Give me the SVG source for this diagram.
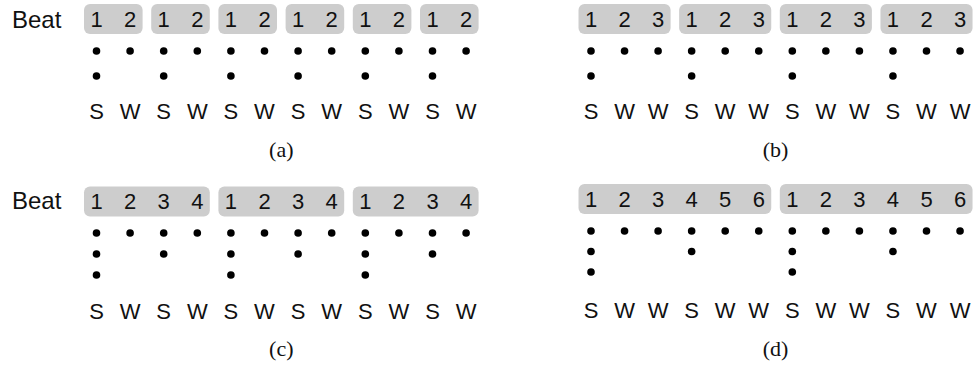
<svg xmlns="http://www.w3.org/2000/svg" width="976" height="365" viewBox="0 0 976 365">
<style>
.bx{fill:#cdcdcd}
.num{font-family:"Liberation Sans",Arial,sans-serif;font-size:22px;fill:#111;text-anchor:middle}
.lbl{font-family:"Liberation Sans",Arial,sans-serif;font-size:24px;fill:#111}
.sw{font-family:"Liberation Sans",Arial,sans-serif;font-size:22px;fill:#111;text-anchor:middle}
.cap{font-family:"Liberation Serif","Times New Roman",serif;font-size:22px;fill:#111;text-anchor:middle}
.d{fill:#000}
</style>
<rect width="976" height="365" fill="#fff"/>

<!-- Panel (a) -->
<g id="panel-a">
<g id="a-boxes">
<rect class="bx" x="84" y="4" width="58.6" height="30" rx="6"/>
<rect class="bx" x="151.2" y="4" width="58.6" height="30" rx="6"/>
<rect class="bx" x="218.4" y="4" width="58.6" height="30" rx="6"/>
<rect class="bx" x="285.6" y="4" width="58.6" height="30" rx="6"/>
<rect class="bx" x="352.8" y="4" width="58.6" height="30" rx="6"/>
<rect class="bx" x="420" y="4" width="58.6" height="30" rx="6"/>
</g>
<g id="a-text">
<text class="lbl" x="12" y="27.5">Beat</text>
<text class="num" x="96.5" y="27">1</text><text class="num" x="130.1" y="27">2</text>
<text class="num" x="163.7" y="27">1</text><text class="num" x="197.3" y="27">2</text>
<text class="num" x="230.9" y="27">1</text><text class="num" x="264.5" y="27">2</text>
<text class="num" x="298.1" y="27">1</text><text class="num" x="331.7" y="27">2</text>
<text class="num" x="365.3" y="27">1</text><text class="num" x="398.9" y="27">2</text>
<text class="num" x="432.5" y="27">1</text><text class="num" x="466.1" y="27">2</text>
<text class="sw" x="96.5" y="119">S</text><text class="sw" x="130.1" y="119">W</text>
<text class="sw" x="163.7" y="119">S</text><text class="sw" x="197.3" y="119">W</text>
<text class="sw" x="230.9" y="119">S</text><text class="sw" x="264.5" y="119">W</text>
<text class="sw" x="298.1" y="119">S</text><text class="sw" x="331.7" y="119">W</text>
<text class="sw" x="365.3" y="119">S</text><text class="sw" x="398.9" y="119">W</text>
<text class="sw" x="432.5" y="119">S</text><text class="sw" x="466.1" y="119">W</text>
<text class="cap" x="281.3" y="157">(a)</text>
</g>
<g id="a-dots">
<circle class="d" cx="96.5" cy="51" r="3.8"/><circle class="d" cx="130.1" cy="51" r="3.8"/>
<circle class="d" cx="163.7" cy="51" r="3.8"/><circle class="d" cx="197.3" cy="51" r="3.8"/>
<circle class="d" cx="230.9" cy="51" r="3.8"/><circle class="d" cx="264.5" cy="51" r="3.8"/>
<circle class="d" cx="298.1" cy="51" r="3.8"/><circle class="d" cx="331.7" cy="51" r="3.8"/>
<circle class="d" cx="365.3" cy="51" r="3.8"/><circle class="d" cx="398.9" cy="51" r="3.8"/>
<circle class="d" cx="432.5" cy="51" r="3.8"/><circle class="d" cx="466.1" cy="51" r="3.8"/>
<circle class="d" cx="96.5" cy="76" r="3.8"/><circle class="d" cx="163.7" cy="76" r="3.8"/>
<circle class="d" cx="230.9" cy="76" r="3.8"/><circle class="d" cx="298.1" cy="76" r="3.8"/>
<circle class="d" cx="365.3" cy="76" r="3.8"/><circle class="d" cx="432.5" cy="76" r="3.8"/>
</g>
</g>

<!-- Panel (b) -->
<g id="panel-b">
<g id="b-boxes">
<rect class="bx" x="578.5" y="4" width="92.1" height="30" rx="6"/>
<rect class="bx" x="679.15" y="4" width="92.1" height="30" rx="6"/>
<rect class="bx" x="779.8" y="4" width="92.1" height="30" rx="6"/>
<rect class="bx" x="880.45" y="4" width="92.1" height="30" rx="6"/>
</g>
<g id="b-text">
<text class="num" x="591" y="27">1</text><text class="num" x="624.55" y="27">2</text><text class="num" x="658.1" y="27">3</text>
<text class="num" x="691.65" y="27">1</text><text class="num" x="725.2" y="27">2</text><text class="num" x="758.75" y="27">3</text>
<text class="num" x="792.3" y="27">1</text><text class="num" x="825.85" y="27">2</text><text class="num" x="859.4" y="27">3</text>
<text class="num" x="892.95" y="27">1</text><text class="num" x="926.5" y="27">2</text><text class="num" x="960.05" y="27">3</text>
<text class="sw" x="591" y="119">S</text><text class="sw" x="624.55" y="119">W</text><text class="sw" x="658.1" y="119">W</text>
<text class="sw" x="691.65" y="119">S</text><text class="sw" x="725.2" y="119">W</text><text class="sw" x="758.75" y="119">W</text>
<text class="sw" x="792.3" y="119">S</text><text class="sw" x="825.85" y="119">W</text><text class="sw" x="859.4" y="119">W</text>
<text class="sw" x="892.95" y="119">S</text><text class="sw" x="926.5" y="119">W</text><text class="sw" x="960.05" y="119">W</text>
<text class="cap" x="775.5" y="157">(b)</text>
</g>
<g id="b-dots">
<circle class="d" cx="591" cy="51" r="3.8"/><circle class="d" cx="624.55" cy="51" r="3.8"/><circle class="d" cx="658.1" cy="51" r="3.8"/>
<circle class="d" cx="691.65" cy="51" r="3.8"/><circle class="d" cx="725.2" cy="51" r="3.8"/><circle class="d" cx="758.75" cy="51" r="3.8"/>
<circle class="d" cx="792.3" cy="51" r="3.8"/><circle class="d" cx="825.85" cy="51" r="3.8"/><circle class="d" cx="859.4" cy="51" r="3.8"/>
<circle class="d" cx="892.95" cy="51" r="3.8"/><circle class="d" cx="926.5" cy="51" r="3.8"/><circle class="d" cx="960.05" cy="51" r="3.8"/>
<circle class="d" cx="591" cy="76" r="3.8"/><circle class="d" cx="691.65" cy="76" r="3.8"/>
<circle class="d" cx="792.3" cy="76" r="3.8"/><circle class="d" cx="892.95" cy="76" r="3.8"/>
</g>
</g>

<!-- Panel (c) -->
<g id="panel-c">
<g id="c-boxes">
<rect class="bx" x="84" y="186.5" width="125.8" height="30" rx="6"/>
<rect class="bx" x="218.4" y="186.5" width="125.8" height="30" rx="6"/>
<rect class="bx" x="352.8" y="186.5" width="125.8" height="30" rx="6"/>
</g>
<g id="c-text">
<text class="lbl" x="12" y="209">Beat</text>
<text class="num" x="96.5" y="209">1</text><text class="num" x="130.1" y="209">2</text><text class="num" x="163.7" y="209">3</text><text class="num" x="197.3" y="209">4</text>
<text class="num" x="230.9" y="209">1</text><text class="num" x="264.5" y="209">2</text><text class="num" x="298.1" y="209">3</text><text class="num" x="331.7" y="209">4</text>
<text class="num" x="365.3" y="209">1</text><text class="num" x="398.9" y="209">2</text><text class="num" x="432.5" y="209">3</text><text class="num" x="466.1" y="209">4</text>
<text class="sw" x="96.5" y="319">S</text><text class="sw" x="130.1" y="319">W</text>
<text class="sw" x="163.7" y="319">S</text><text class="sw" x="197.3" y="319">W</text>
<text class="sw" x="230.9" y="319">S</text><text class="sw" x="264.5" y="319">W</text>
<text class="sw" x="298.1" y="319">S</text><text class="sw" x="331.7" y="319">W</text>
<text class="sw" x="365.3" y="319">S</text><text class="sw" x="398.9" y="319">W</text>
<text class="sw" x="432.5" y="319">S</text><text class="sw" x="466.1" y="319">W</text>
<text class="cap" x="281.3" y="356">(c)</text>
</g>
<g id="c-dots">
<circle class="d" cx="96.5" cy="233" r="3.8"/><circle class="d" cx="130.1" cy="233" r="3.8"/>
<circle class="d" cx="163.7" cy="233" r="3.8"/><circle class="d" cx="197.3" cy="233" r="3.8"/>
<circle class="d" cx="230.9" cy="233" r="3.8"/><circle class="d" cx="264.5" cy="233" r="3.8"/>
<circle class="d" cx="298.1" cy="233" r="3.8"/><circle class="d" cx="331.7" cy="233" r="3.8"/>
<circle class="d" cx="365.3" cy="233" r="3.8"/><circle class="d" cx="398.9" cy="233" r="3.8"/>
<circle class="d" cx="432.5" cy="233" r="3.8"/><circle class="d" cx="466.1" cy="233" r="3.8"/>
<circle class="d" cx="96.5" cy="254" r="3.8"/><circle class="d" cx="163.7" cy="254" r="3.8"/>
<circle class="d" cx="230.9" cy="254" r="3.8"/><circle class="d" cx="298.1" cy="254" r="3.8"/>
<circle class="d" cx="365.3" cy="254" r="3.8"/><circle class="d" cx="432.5" cy="254" r="3.8"/>
<circle class="d" cx="96.5" cy="275" r="3.8"/><circle class="d" cx="230.9" cy="275" r="3.8"/>
<circle class="d" cx="365.3" cy="275" r="3.8"/>
</g>
</g>

<!-- Panel (d) -->
<g id="panel-d">
<g id="d-boxes">
<rect class="bx" x="578.5" y="184" width="192.75" height="30" rx="6"/>
<rect class="bx" x="779.8" y="184" width="192.75" height="30" rx="6"/>
</g>
<g id="d-text">
<text class="num" x="591" y="207">1</text><text class="num" x="624.55" y="207">2</text><text class="num" x="658.1" y="207">3</text>
<text class="num" x="691.65" y="207">4</text><text class="num" x="725.2" y="207">5</text><text class="num" x="758.75" y="207">6</text>
<text class="num" x="792.3" y="207">1</text><text class="num" x="825.85" y="207">2</text><text class="num" x="859.4" y="207">3</text>
<text class="num" x="892.95" y="207">4</text><text class="num" x="926.5" y="207">5</text><text class="num" x="960.05" y="207">6</text>
<text class="sw" x="591" y="318">S</text><text class="sw" x="624.55" y="318">W</text><text class="sw" x="658.1" y="318">W</text>
<text class="sw" x="691.65" y="318">S</text><text class="sw" x="725.2" y="318">W</text><text class="sw" x="758.75" y="318">W</text>
<text class="sw" x="792.3" y="318">S</text><text class="sw" x="825.85" y="318">W</text><text class="sw" x="859.4" y="318">W</text>
<text class="sw" x="892.95" y="318">S</text><text class="sw" x="926.5" y="318">W</text><text class="sw" x="960.05" y="318">W</text>
<text class="cap" x="775.5" y="356">(d)</text>
</g>
<g id="d-dots">
<circle class="d" cx="591" cy="231" r="3.8"/><circle class="d" cx="624.55" cy="231" r="3.8"/><circle class="d" cx="658.1" cy="231" r="3.8"/>
<circle class="d" cx="691.65" cy="231" r="3.8"/><circle class="d" cx="725.2" cy="231" r="3.8"/><circle class="d" cx="758.75" cy="231" r="3.8"/>
<circle class="d" cx="792.3" cy="231" r="3.8"/><circle class="d" cx="825.85" cy="231" r="3.8"/><circle class="d" cx="859.4" cy="231" r="3.8"/>
<circle class="d" cx="892.95" cy="231" r="3.8"/><circle class="d" cx="926.5" cy="231" r="3.8"/><circle class="d" cx="960.05" cy="231" r="3.8"/>
<circle class="d" cx="591" cy="251.5" r="3.8"/><circle class="d" cx="691.65" cy="251.5" r="3.8"/>
<circle class="d" cx="792.3" cy="251.5" r="3.8"/><circle class="d" cx="892.95" cy="251.5" r="3.8"/>
<circle class="d" cx="591" cy="272" r="3.8"/><circle class="d" cx="792.3" cy="272" r="3.8"/>
</g>
</g>
</svg>
